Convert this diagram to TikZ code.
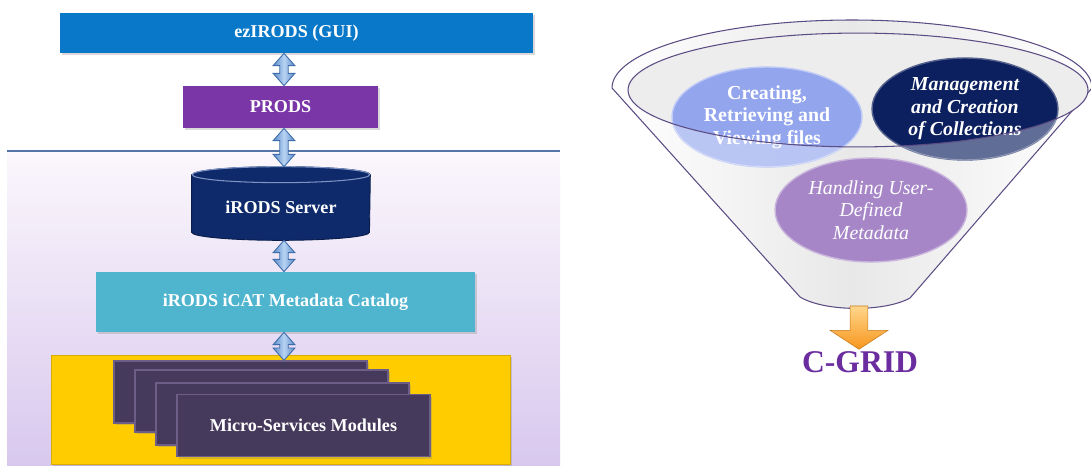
\documentclass[tikz,border=0pt]{standalone}
\usepackage{fontspec}
\setmainfont{Liberation Serif}
\usetikzlibrary{
    arrows.meta,
    positioning,
    calc,
    backgrounds,
    shadows,
    shapes.geometric
}
\definecolor{guicol}{HTML}{0A78C8}
\definecolor{prodscol}{HTML}{7A36A6}
\definecolor{servercol}{HTML}{0E2A6A}
\definecolor{srvrim}{HTML}{7D93C4}
\definecolor{icatcol}{HTML}{4FB5CF}
\definecolor{msbgcol}{HTML}{FFCC00}
\definecolor{cardcol}{HTML}{463A5C}
\definecolor{cardedge}{HTML}{6C5E86}
\definecolor{paneltop}{HTML}{FBF7FC}
\definecolor{panelbot}{HTML}{D8C8EE}
\definecolor{panelline}{HTML}{5575A8}
\definecolor{arrmid}{HTML}{B8D3F2}
\definecolor{arrside}{HTML}{5B8BCB}
\definecolor{arredge}{HTML}{3E6CA8}
\definecolor{funnelline}{HTML}{5C4C84}
\definecolor{bubblea}{HTML}{8A9EEE}
\definecolor{bubbleb}{HTML}{0C1F5E}
\definecolor{bubblec}{HTML}{A686C6}
\definecolor{gridcol}{HTML}{6A2C9E}
\definecolor{orangetop}{HTML}{FFD68A}
\definecolor{orangebot}{HTML}{F7961E}

% double block arrow between two anchors, on the common axis
\newcommand{\dblarrow}[2]{%
    \draw[dblarr] let \p1=(#1 -| axis), \p2=(#2 -| axis) in
        (\x1,\y1) -- ({\x1+6.2pt},{\y1-7pt}) -- ({\x1+2.4pt},{\y1-7pt})
        -- ({\x1+2.4pt},{\y2+7pt}) -- ({\x1+6.2pt},{\y2+7pt}) -- (\x1,\y2)
        -- ({\x1-6.2pt},{\y2+7pt}) -- ({\x1-2.4pt},{\y2+7pt})
        -- ({\x1-2.4pt},{\y1-7pt}) -- ({\x1-6.2pt},{\y1-7pt}) -- cycle;
}

\begin{document}
\begin{tikzpicture}[
    x=0.02cm, y=-0.02cm,
    font=\fontsize{10.3}{12}\selectfont\bfseries,
    % ── Node Styles ──
    lay/.style={
        text=white, inner sep=2pt, align=center,
        drop shadow={opacity=0.3, shadow xshift=1.2pt, shadow yshift=-1.2pt}
    },
    card/.style={
        fill=cardcol, draw=cardedge, line width=0.8pt, text=white,
        minimum width=5.06cm, minimum height=1.24cm,
        drop shadow={opacity=0.3, shadow xshift=1.2pt, shadow yshift=-1.2pt}
    },
    bubble/.style={
        ellipse, inner sep=0pt, align=center, text=white,
        text opacity=1, line width=0.8pt,
        font=\fontsize{11.3}{12.8}\selectfont
    },
    % ── Arrow Styles ──
    dblarr/.style={
        draw=arredge, line width=0.5pt,
        left color=arrside, right color=arrside, middle color=arrmid
    },
    orangearr/.style={
        draw=orangebot!80!black, line width=0.3pt,
        top color=orangetop, bottom color=orangebot
    },
    rimline/.style={draw=funnelline, line width=0.6pt},
]
\useasboundingbox (0,0) rectangle (1091,466);

% ────────────────────────────────
%  LEFT: iRODS STACK
% ────────────────────────────────
\begin{scope}[on background layer]
    \fill[top color=paneltop, bottom color=panelbot] (7,151) rectangle (560,466);
    \draw[panelline, line width=1.2pt] (7,151) -- (560,151);
\end{scope}

\coordinate (axis) at (284,0);

\node[lay, fill=guicol, minimum width=9.46cm, minimum height=0.80cm]
    (ez) at (296.5,33) {ezIRODS (GUI)};
\node[lay, fill=prodscol, minimum width=3.90cm, minimum height=0.84cm]
    (prods) at (280.5,107) {PRODS};

% server cylinder
\node[text=white, minimum width=3.56cm, minimum height=1.30cm, inner sep=0pt]
    (server) at (281,207.5) {iRODS Server};
\begin{scope}[on background layer]
    \draw[fill=servercol, draw=servercol!70!black, line width=0.5pt]
        (server.north west) -- ([yshift=4.55pt]server.south west)
        arc[start angle=180, end angle=360, x radius=50.6pt, y radius=4.55pt]
        -- (server.north east)
        arc[start angle=0, end angle=180, x radius=50.6pt, y radius=4.55pt]
        -- cycle;
    \draw[fill=servercol, draw=srvrim, line width=0.6pt]
        (server.north) ellipse[x radius=50.6pt, y radius=4.55pt];
\end{scope}
\coordinate (srvtop) at ([yshift=4.55pt]server.north);

\node[lay, fill=icatcol, minimum width=7.58cm, minimum height=1.20cm]
    (icat) at (285.5,302) {iRODS iCAT Metadata Catalog};

% micro-services
\node[fill=msbgcol, draw=msbgcol!85!black, line width=0.4pt,
      minimum width=9.18cm, minimum height=2.18cm,
      drop shadow={opacity=0.3, shadow xshift=1.2pt, shadow yshift=-1.2pt}]
    (msbox) at (280.5,409.5) {};
\node[card] (card1) at (240.5,392) {};
\node[card] (card2) at (261.5,401) {};
\node[card] (card3) at (282.5,414) {};
\node[card] (card4) at (303.5,425.5) {Micro-Services Modules};

% ── Flow arrows ──
\dblarrow{ez.south}{prods.north}
\dblarrow{prods.south}{srvtop}
\dblarrow{server.south}{icat.north}
\dblarrow{icat.south}{card1.north}

% ────────────────────────────────
%  RIGHT: FUNNEL
% ────────────────────────────────
\draw[rimline, left color=white, right color=white, middle color=black!9]
    (612,88) arc[start angle=180, end angle=0, x radius=136.6pt, y radius=38.7pt]
    -- (910,298) .. controls (885,312) and (825,312) .. (800,297) -- cycle;
\fill[black!7] (858,90) ellipse[x radius=130.9pt, y radius=32.4pt];

\node[bubble, fill=bubblea, fill opacity=0.9, draw=bubblea!55!white,
      minimum width=3.80cm, minimum height=2.00cm]
    (create) at (767,117) {\bfseries Creating,\\\bfseries Retrieving and\\\bfseries Viewing files};
\node[bubble, fill=bubbleb, draw=bubbleb!70!white,
      minimum width=3.72cm, minimum height=2.04cm]
    (manage) at (965,109) {\bfseries\itshape Management\\\bfseries\itshape and Creation\\\bfseries\itshape of Collections};
\node[bubble, fill=bubblec, draw=bubblec!60!white,
      minimum width=3.84cm, minimum height=2.08cm]
    (meta) at (871,210) {\mdseries\itshape Handling User-\\\mdseries\itshape Defined\\\mdseries\itshape Metadata};

% front wall of the funnel over the lower parts of the bubbles
\begin{scope}
    \clip (create.center) ellipse[x radius=54.3pt, y radius=28.6pt]
          (manage.center) ellipse[x radius=53.2pt, y radius=29.2pt];
    \fill[white, opacity=0.35, even odd rule]
        (600,0) rectangle (1091,200)
        (858,90) ellipse[x radius=130.9pt, y radius=32.4pt];
\end{scope}
\draw[rimline] (858,90) ellipse[x radius=130.9pt, y radius=32.4pt];

% output
\coordinate (spout) at (859,306);
\node[text=gridcol, inner sep=1pt, font=\fontsize{18}{21}\selectfont\bfseries]
    (cgrid) at (860,362) {C-GRID};
\draw[orangearr] let \p1=(spout), \p2=(cgrid.north) in
    ({\x1-5.1pt},\y1) -- ({\x1+5.1pt},\y1) -- ({\x1+5.1pt},{\y2+10.8pt})
    -- ({\x1+16.5pt},{\y2+10.8pt}) -- (\x1,\y2) -- ({\x1-16.5pt},{\y2+10.8pt})
    -- ({\x1-5.1pt},{\y2+10.8pt}) -- cycle;

\end{tikzpicture}
\end{document}
